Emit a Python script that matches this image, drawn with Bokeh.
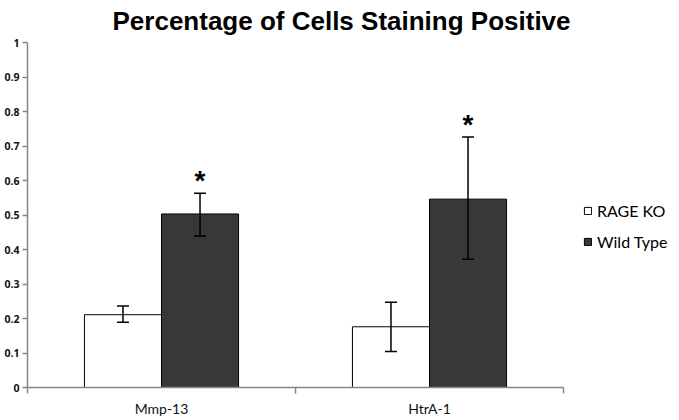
from bokeh.plotting import figure
from bokeh.models import (ColumnDataSource, Range1d, FixedTicker, Whisker, TeeHead,
                          Legend, LegendItem, NumeralTickFormatter)
from bokeh.core.properties import value
from bokeh.embed import file_html
from bokeh.resources import INLINE

# ---- data ----
categories = ["Mmp-13", "HtrA-1"]
series_names = ["RAGE KO", "Wild Type"]
rage_ko = [0.211, 0.176]
rage_ko_lower = [0.189, 0.104]
rage_ko_upper = [0.236, 0.247]
wild_type = [0.503, 0.546]
wild_type_lower = [0.439, 0.372]
wild_type_upper = [0.563, 0.726]
significance = ["*", "*"]
y_ticks = [0, 0.1, 0.2, 0.3, 0.4, 0.5, 0.6, 0.7, 0.8, 0.9, 1.0]

title_text = "Percentage of Cells Staining Positive"

# ---- layout ----
W, H = 679, 420
left_b, top_b, bottom_b, right_b = 27, 42, 33, 2
axis_end_px = 563            # where the category axis ends
frame_w = W - left_b - right_b
px_per_unit = (axis_end_px - left_b) / len(categories)
x_start = 0.5
x_end = x_start + frame_w / px_per_unit

bar_w = 0.2875
xs = [i + 1 for i in range(len(categories))]

src_ko = ColumnDataSource(dict(x=[x - bar_w / 2 for x in xs], top=rage_ko,
                               lower=rage_ko_lower, upper=rage_ko_upper))
src_wt = ColumnDataSource(dict(x=[x + bar_w / 2 for x in xs], top=wild_type,
                               lower=wild_type_lower, upper=wild_type_upper,
                               star=significance))

p = figure(width=W, height=H, output_backend="svg", toolbar_location=None,
           x_range=Range1d(x_start, x_end), y_range=Range1d(0, 1),
           min_border_left=left_b, min_border_right=right_b, min_border_top=top_b,
           min_border_bottom=bottom_b)
p.outline_line_color = None
p.xgrid.grid_line_color = None
p.ygrid.grid_line_color = None

p.title.text = title_text
p.title.text_font = "Liberation Sans"
p.title.text_font_size = "26px"
p.title.text_font_style = "bold"
p.title.text_color = "black"
p.title.align = "left"
p.title.vertical_align = "top"
p.title.offset = 85
p.title.standoff = 9

r_ko = p.vbar(x="x", top="top", width=bar_w, source=src_ko, fill_color="white",
              line_color="black", line_width=1)
r_wt = p.vbar(x="x", top="top", width=bar_w, source=src_wt, fill_color="#383838",
              line_color="black", line_width=1)

for src in (src_ko, src_wt):
    w = Whisker(source=src, base="x", upper="upper", lower="lower", dimension="height",
                line_color="black", line_width=1.5, level="overlay",
                upper_head=TeeHead(size=12, line_color="black", line_width=1.5),
                lower_head=TeeHead(size=12, line_color="black", line_width=1.5))
    p.add_layout(w)

p.text(x="x", y="upper", text="star", source=src_wt, text_align="center",
       text_baseline="alphabetic", y_offset=-13, text_font=value("Liberation Sans"),
       text_font_size="28px", text_font_style="bold", text_color="black")

# axes
ax = p.xaxis[0]
ax.bounds = (0.5, len(categories) + 0.5)
ax.ticker = FixedTicker(ticks=xs, minor_ticks=[0.5 + i for i in range(len(categories) + 1)])
ax.major_label_overrides = {x: c for x, c in zip(xs, categories)}
ax.major_tick_line_color = None
ax.major_tick_out = 0
ax.major_tick_in = 0
ax.minor_tick_out = 6
ax.minor_tick_in = 0
ax.minor_tick_line_color = "#868686"
ax.minor_tick_line_width = 1.5
ax.axis_line_color = "#868686"
ax.axis_line_width = 1.5
ax.major_label_standoff = 6
ax.major_label_text_font = "Lato"
ax.major_label_text_font_size = "14px"
ax.major_label_text_color = "#111111"

ay = p.yaxis[0]
ay.ticker = FixedTicker(ticks=y_ticks)
ay.formatter = NumeralTickFormatter(format="0.[0]")
ay.minor_tick_line_color = None
ay.major_tick_out = 5
ay.major_tick_in = 0
ay.major_tick_line_color = "#868686"
ay.major_tick_line_width = 1.5
ay.axis_line_color = "#868686"
ay.axis_line_width = 1.5
ay.major_label_standoff = 3
ay.major_label_text_font = "Open Sans"
ay.major_label_text_font_size = "10.5px"
ay.major_label_text_font_style = "bold"
ay.major_label_text_color = "#111111"

legend = Legend(items=[LegendItem(label=series_names[0], renderers=[r_ko]),
                       LegendItem(label=series_names[1], renderers=[r_wt])],
                location=(556, 136), orientation="vertical",
                glyph_width=9, glyph_height=9, label_standoff=5, spacing=12,
                label_height=18, padding=0, margin=0, border_line_color=None,
                background_fill_alpha=0, label_text_font="Lato",
                label_text_font_size="16px", label_text_color="black")
p.add_layout(legend, "center")

open("out.html", "w").write(file_html(p, INLINE))
